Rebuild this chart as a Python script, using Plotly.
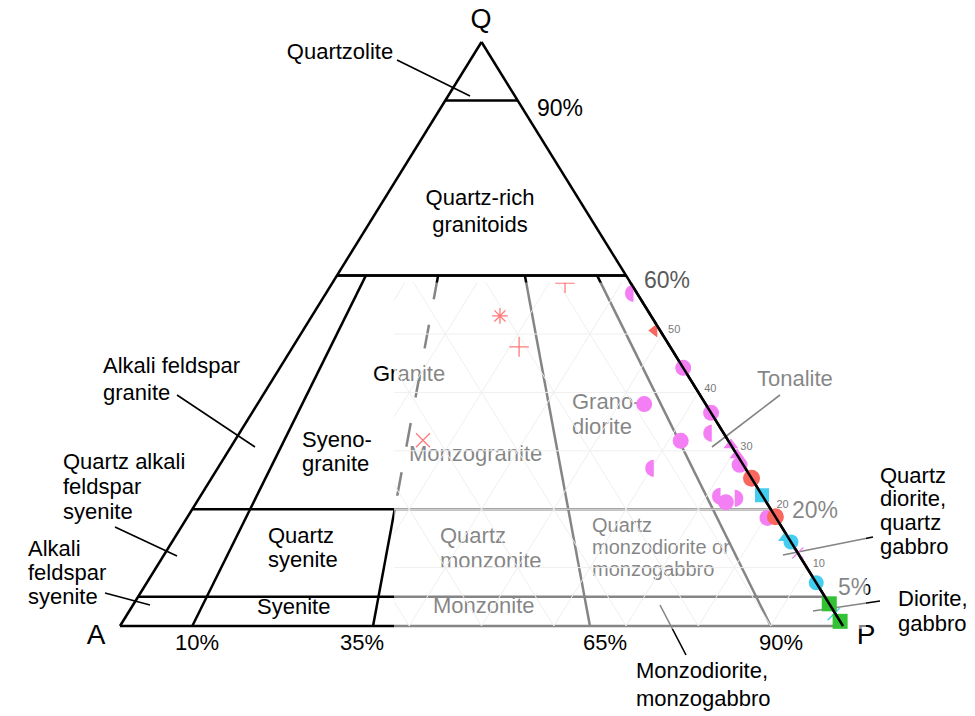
import plotly.graph_objects as go

# ---------------- data ----------------
corner_names = ["Q", "A", "P"]
q_boundaries = [90, 60, 20, 5]            # Q (%) horizontal field boundaries
ap_boundaries = [10, 35, 65, 90]          # 100*P/(A+P) field boundaries
q_boundary_labels = ["90%", "60%", "20%", "5%"]
ap_boundary_labels = ["10%", "35%", "65%", "90%"]
edge_tick_values = [50, 40, 30, 20, 10]
grid_steps = [10, 20, 30, 40, 50, 60, 70, 80, 90]

# sample compositions, Q / A / P in %
mag_circle_Q = [44.2, 36.5, 27.6, 38.0, 31.7, 21.2, 18.5]
mag_circle_A = [0.0, 0.0, 0.5, 8.5, 6.6, 5.6, 1.2]
mag_circle_P = [55.8, 63.5, 71.9, 53.5, 61.7, 73.2, 80.3]
mag_halfL_Q = [57.0, 32.9, 27.0, 22.1]
mag_halfL_A = [1.0, 2.2, 13.2, 6.4]
mag_halfL_P = [42.0, 64.9, 59.8, 71.5]
mag_halfR_Q = [21.9]
mag_halfR_A = [3.5]
mag_halfR_P = [74.6]
mag_tri_Q = [31.0, 29.3]
mag_tri_A = [0.0, 0.0]
mag_tri_P = [69.0, 70.7]
mag_x_Q = [12.5]
mag_x_A = [0.0]
mag_x_P = [87.5]

red_circle_Q = [25.3, 18.7]
red_circle_A = [0.0, 0.0]
red_circle_P = [74.7, 81.3]
red_tri_Q = [50.6]
red_tri_A = [0.8]
red_tri_P = [48.6]
red_star_Q = [53.1]
red_star_A = [20.9]
red_star_P = [26.0]
red_plus_Q = [47.8, 58.7]
red_plus_A = [20.9, 9.1]
red_plus_P = [31.3, 32.2]
red_x_Q = [31.8]
red_x_A = [42.2]
red_x_P = [26.0]

cyan_square_Q = [22.4]
cyan_square_A = [0.0]
cyan_square_P = [77.6]
cyan_circle_Q = [14.4, 7.4]
cyan_circle_A = [0.0, 0.0]
cyan_circle_P = [85.6, 92.6]
cyan_tri_Q = [15.1]
cyan_tri_A = [0.4]
cyan_tri_P = [84.5]
cyan_line_Q = [2.0]
cyan_line_A = [0.3]
cyan_line_P = [97.7]

green_square_Q = [3.8, 0.8]
green_square_A = [0.0, 0.0]
green_square_P = [96.2, 99.2]

# ---------------- geometry helpers ----------------
W, H = 975, 716          # browser window (page margin removed below)
A_PX, P_PX, BASE_PX, APEX_PX = 120, 843, 626, 42   # triangle corners on the page


def px(xp, yp):
    """page pixel -> data frame (used only to place labels / panels)"""
    return (xp - A_PX) / (P_PX - A_PX), (BASE_PX - yp) / (BASE_PX - APEX_PX)


def txy(Q, A, P):
    s = Q + A + P
    return P / s + 0.5 * Q / s, Q / s


def series_xy(Qs, As, Ps):
    pts = [txy(q, a, p) for q, a, p in zip(Qs, As, Ps)]
    return [p[0] for p in pts], [p[1] for p in pts]


traces = []


def add_line(pts, color="black", width=2.5, dash=None, sub=1):
    traces.append(go.Scatter(
        x=[p[0] for p in pts], y=[p[1] for p in pts], mode="lines",
        line=dict(color=color, width=width, dash=dash),
        xaxis="x" if sub == 1 else "x2", yaxis="y" if sub == 1 else "y2",
        hoverinfo="skip", showlegend=False))


FONT = "Liberation Sans"


def add_text(txt, xp, yp, anchor="l", size=22, color="black", family=FONT):
    x, y = px(xp, yp)
    traces.append(go.Scatter(
        x=[x], y=[y], mode="text", text=[txt], cliponaxis=False,
        textposition="middle right" if anchor == "l" else "middle center",
        textfont=dict(size=size, color=color, family=family),
        hoverinfo="skip", showlegend=False))


# ---------------- diagram frame & fields ----------------
add_line([txy(0, 100, 0), txy(100, 0, 0)])          # A-Q edge
add_line([txy(0, 100, 0), txy(0, 0, 100)])          # base A-P
for q in q_boundaries:
    add_line([txy(q, 100 - q, 0), txy(q, 0, 100 - q)])

q_top = q_boundaries[1]
q_mid = q_boundaries[2]
for r in ap_boundaries:
    base = txy(0, 100 - r, r)
    top = txy(q_top, (100 - r) * (100 - q_top) / 100, r * (100 - q_top) / 100)
    if r == 35:
        mid = txy(q_mid, (100 - r) * (100 - q_mid) / 100, r * (100 - q_mid) / 100)
        add_line([base, mid])
        add_line([top, mid], dash="24px,26px")
    else:
        add_line([base, top])

# leader lines
leaders = [
    ((397, 60), (470, 96)),
    ((177, 395), (255, 447)),
    ((115, 527), (177, 556)),
    ((105, 593), (150, 605)),
    ((780, 395), (712, 447)),
    ((873, 537), (783, 555)),
    ((880, 601), (813, 611)),
    ((660, 605), (686, 655)),
]
for a, b in leaders:
    add_line([px(*a), px(*b)], width=1.6)

# field labels
labels = [
    ("Quartzolite", 340, 53, "c"),
    ("Quartz-rich", 480, 199, "c"), ("granitoids", 480, 226, "c"),
    ("Alkali feldspar", 103, 367, "l"), ("granite", 103, 394, "l"),
    ("Quartz alkali", 63, 463, "l"), ("feldspar", 63, 488, "l"), ("syenite", 63, 513, "l"),
    ("Alkali", 28, 550, "l"), ("feldspar", 28, 574, "l"), ("syenite", 28, 598, "l"),
    ("Syeno-", 302, 441, "l"), ("granite", 302, 465, "l"),
    ("Granite", 373, 375, "l"),
    ("Monzogranite", 409, 455, "l"),
    ("Grano-", 572, 403, "l"), ("diorite", 572, 428, "l"),
    ("Tonalite", 757, 380, "l"),
    ("Quartz", 268, 537, "l"), ("syenite", 268, 561, "l"),
    ("Syenite", 257, 608, "l"),
    ("Quartz", 440, 537, "l"), ("monzonite", 440, 562, "l"),
    ("Monzonite", 433, 607, "l"),
    ("Quartz", 880, 477, "l"), ("diorite,", 880, 500, "l"), ("quartz", 880, 524, "l"), ("gabbro", 880, 548, "l"),
    ("Diorite,", 898, 600, "l"), ("gabbro", 898, 625, "l"),
    ("Monzodiorite,", 636, 672, "l"), ("monzogabbro", 636, 700, "l"),
]
for t, x, y, a in labels:
    add_text(t, x, y, a)
for t, x, y in [("Quartz", 592, 527), ("monzodiorite or", 592, 549), ("monzogabbro", 592, 571)]:
    add_text(t, x, y, "l", size=20)

# percentage labels
add_text(q_boundary_labels[0], 537, 110, "l", size=23)
add_text(q_boundary_labels[2], 792, 512, "l", size=23)
add_text(q_boundary_labels[3], 838, 589, "l", size=23)
for t, x in zip(ap_boundary_labels, [197, 362, 605, 781]):
    add_text(t, x, 644, "c", size=22)
for t, (x, y), s in zip(corner_names, [(481, 21), (96, 637), (866, 637)], [27, 28, 28]):
    add_text(t, x, y, "c", size=s)

# ---------------- data-plot overlay (semi-transparent panel) ----------------
PANEL = (394, 282.5, 866, 629)     # page pixels: left, top, right, bottom
ox0, oy1 = px(PANEL[0], PANEL[1])
ox1, oy0 = px(PANEL[2], PANEL[3])
traces.append(go.Scatter(
    x=[ox0, ox1, ox1, ox0, ox0], y=[oy0, oy0, oy1, oy1, oy0], mode="lines",
    fill="toself", fillcolor="rgba(255,255,255,0.52)", line=dict(width=0),
    hoverinfo="skip", showlegend=False))


def clip(p0, p1):
    x0, y0 = p0
    dx, dy = p1[0] - x0, p1[1] - y0
    t0, t1 = 0.0, 1.0
    for p, q in ((-dx, x0 - ox0), (dx, ox1 - x0), (-dy, y0 - oy0), (dy, oy1 - y0)):
        if p == 0:
            if q < 0:
                return None
        else:
            t = q / p
            if p < 0:
                t0 = max(t0, t)
            else:
                t1 = min(t1, t)
    if t0 >= t1:
        return None
    return (x0 + t0 * dx, y0 + t0 * dy), (x0 + t1 * dx, y0 + t1 * dy)


gx, gy = [], []
for g in grid_steps:
    for a, b in ((txy(g, 100 - g, 0), txy(g, 0, 100 - g)),
                 (txy(0, 100 - g, g), txy(100 - g, 0, g)),
                 (txy(0, g, 100 - g), txy(100 - g, g, 0))):
        c = clip(a, b)
        if c:
            gx += [c[0][0], c[1][0], None]
            gy += [c[0][1], c[1][1], None]
traces.append(go.Scatter(x=gx, y=gy, mode="lines", line=dict(color="#efefef", width=1),
                         hoverinfo="skip", showlegend=False))

add_line([txy(q_top, 100 - q_top, 0), txy(q_top, 0, 100 - q_top)])   # 60% line stays dark
add_line([txy(100, 0, 0), txy(0, 0, 100)])                           # Q-P edge
add_text(q_boundary_labels[1], 644, 282, "l", size=23, color="#5a5a5a")

for v in edge_tick_values:
    x, y = txy(v, 0, 100 - v)
    traces.append(go.Scatter(x=[x + 0.008], y=[y + 0.006], mode="text", text=[str(v)],
                             textposition="middle right", cliponaxis=False,
                             textfont=dict(size=11, color="#7a7a7a", family=FONT),
                             hoverinfo="skip", showlegend=False))

# ---------------- samples (drawn in the overlay panel, clipped to it) ----------------
MAG, RED, CYAN, GREEN = "#f47ff4", "#f9675e", "#43cdee", "#33c233"


def add_markers(Qs, As, Ps, symbol, color, size, lw=0):
    x, y = series_xy(Qs, As, Ps)
    traces.append(go.Scatter(x=x, y=y, mode="markers", xaxis="x2", yaxis="y2",
                             marker=dict(symbol=symbol, color=color, size=size,
                                         line=dict(color=color, width=lw)),
                             hoverinfo="skip", showlegend=False))


def add_glyphs(Qs, As, Ps, glyph, color, size):
    x, y = series_xy(Qs, As, Ps)
    traces.append(go.Scatter(x=x, y=y, mode="text", text=[glyph] * len(x),
                             xaxis="x2", yaxis="y2", textposition="middle center",
                             textfont=dict(size=size, color=color, family="DejaVu Sans"),
                             hoverinfo="skip", showlegend=False))


add_markers(mag_circle_Q, mag_circle_A, mag_circle_P, "circle", MAG, 16)
add_glyphs(mag_halfL_Q, mag_halfL_A, mag_halfL_P, "\u25d6", MAG, 22)
add_glyphs(mag_halfR_Q, mag_halfR_A, mag_halfR_P, "\u25d7", MAG, 22)
add_markers(mag_tri_Q, mag_tri_A, mag_tri_P, "triangle-up", MAG, 13)
add_markers(mag_x_Q, mag_x_A, mag_x_P, "x-thin-open", MAG, 11, lw=1.2)

add_markers(red_circle_Q, red_circle_A, red_circle_P, "circle", RED, 17)
add_markers(red_tri_Q, red_tri_A, red_tri_P, "triangle-left", RED, 12)
add_markers(red_star_Q, red_star_A, red_star_P, "asterisk-open", "#ff7b7b", 13, lw=1.3)
add_markers(red_plus_Q, red_plus_A, red_plus_P, "cross-thin-open", "#ff7b7b", 14, lw=1.3)
add_markers(red_x_Q, red_x_A, red_x_P, "x-thin-open", "#ff7b7b", 14, lw=1.3)

add_markers(cyan_square_Q, cyan_square_A, cyan_square_P, "square", CYAN, 14)
add_markers(cyan_tri_Q, cyan_tri_A, cyan_tri_P, "triangle-up", CYAN, 13)
add_markers(cyan_circle_Q, cyan_circle_A, cyan_circle_P, "circle", CYAN, 15)
add_markers(cyan_line_Q, cyan_line_A, cyan_line_P, "line-ne-open", CYAN, 12, lw=1.3)

add_markers(green_square_Q, green_square_A, green_square_P, "square", GREEN, 15)

# Q-P edge on top of the samples
add_line([txy(100, 0, 0), txy(0, 0, 100)], sub=2)

fig = go.Figure(traces)
xr0, yr1 = px(0, 0)
xr1, yr0 = px(W, H)
fig.update_layout(
    width=W, height=H, margin=dict(l=0, r=0, t=0, b=0),
    paper_bgcolor="white", plot_bgcolor="rgba(0,0,0,0)", showlegend=False,
    hovermode=False,
    xaxis=dict(range=[xr0, xr1], visible=False, fixedrange=True, domain=[0, 1]),
    yaxis=dict(range=[yr0, yr1], visible=False, fixedrange=True, domain=[0, 1]),
    xaxis2=dict(range=[ox0, ox1], visible=False, fixedrange=True, anchor="y2",
                domain=[PANEL[0] / W, PANEL[2] / W]),
    yaxis2=dict(range=[oy0, oy1], visible=False, fixedrange=True, anchor="x2",
                domain=[1 - PANEL[3] / H, 1 - PANEL[1] / H]),
)
fig.write_html("out.html", config={"displayModeBar": False},
               post_script="document.body.style.margin='0';document.body.style.overflow='hidden';")
